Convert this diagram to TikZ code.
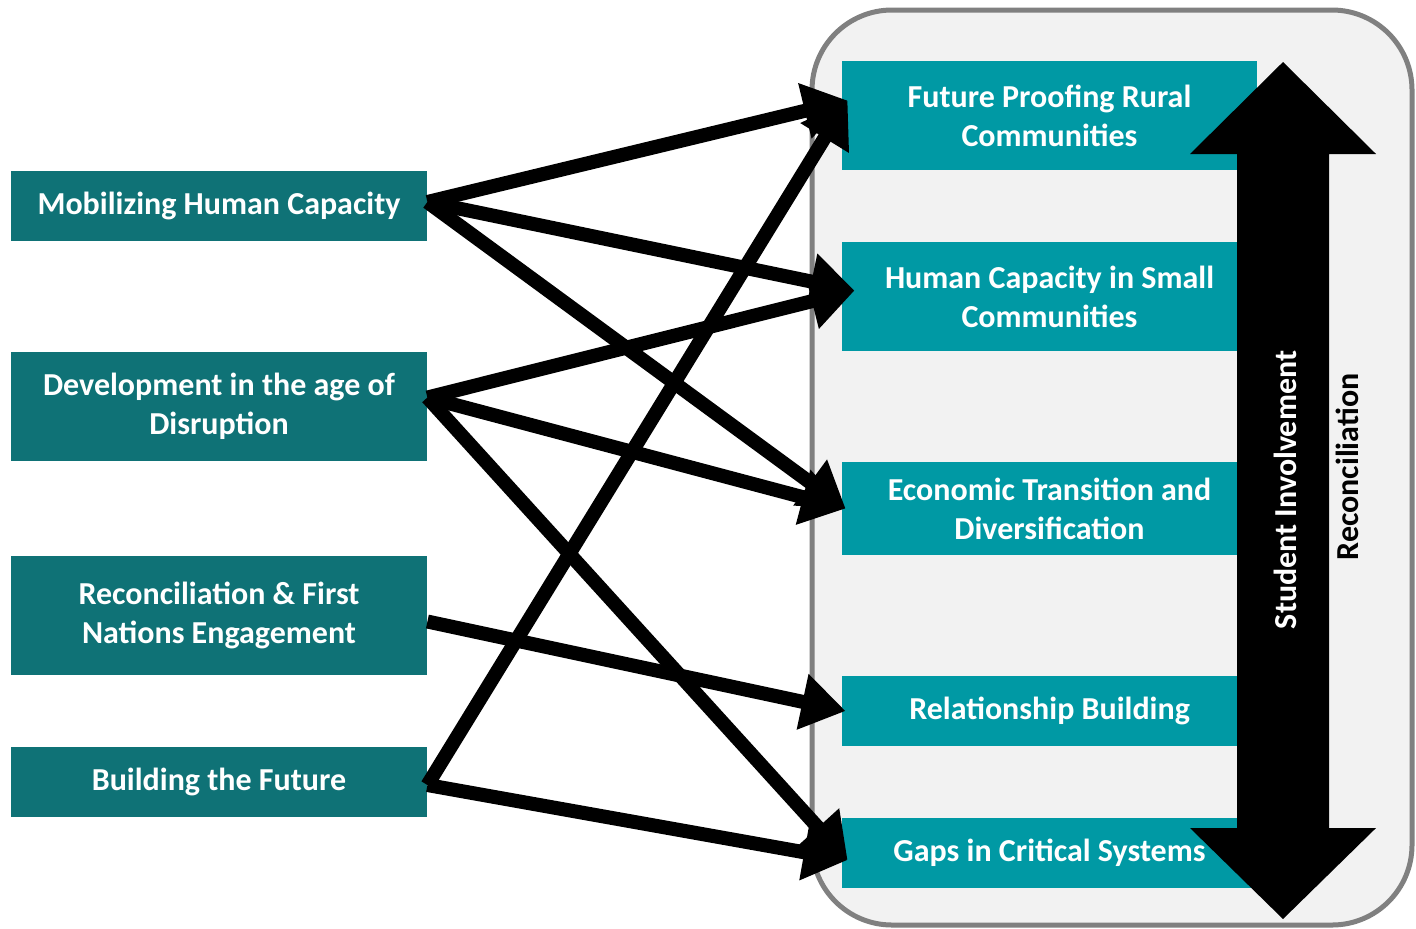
\documentclass[tikz,border=0pt]{standalone}
\usepackage{fontspec}
\setmainfont{Carlito}
\usetikzlibrary{arrows.meta}
\definecolor{darkteal}{HTML}{0F7276}
\definecolor{lightteal}{HTML}{0099A4}
\definecolor{panelgray}{HTML}{F2F2F2}
\definecolor{edgegray}{HTML}{808080}

\tikzset{
  boxtext/.style={text=white, font=\bfseries\fontsize{16}{19.5}\selectfont, align=center, inner sep=0pt},
  leftbox/.style={boxtext, fill=darkteal, minimum width=208pt},
  rightbox/.style={boxtext, fill=lightteal, minimum width=207.5pt},
  link/.style={line width=7pt, -{Triangle[length=22pt,width=27pt]}},
}

\begin{document}
\begin{tikzpicture}[x=0.5pt,y=-0.5pt]
\useasboundingbox (0,0) rectangle (1416,928);
% panel
\draw[edgegray, fill=panelgray, line width=2.5pt, rounded corners=40pt] (812,10) rectangle (1412,925);

% left column
\node[leftbox, minimum height=35pt] (mob) at (219,206) {Mobilizing Human Capacity};
\node[leftbox, minimum height=54.5pt] (dev) at (219,406.5) {Development in the age of\\Disruption};
\node[leftbox, minimum height=59.5pt] (rec) at (219,615.5) {Reconciliation \& First\\Nations Engagement};
\node[leftbox, minimum height=35pt] (bld) at (219,782) {Building the Future};

% right column
\node[rightbox, minimum height=54.5pt] (fut) at (1049.5,115.5) {Future Proofing Rural\\Communities};
\node[rightbox, minimum height=54.5pt] (hum) at (1049.5,296.5) {Human Capacity in Small\\Communities};
\node[rightbox, minimum height=46.5pt] (eco) at (1049.5,508.5) {Economic Transition and\\Diversification};
\node[rightbox, minimum height=35pt] (rel) at (1049.5,711) {Relationship Building};
\node[rightbox, minimum height=35pt] (gap) at (1049.5,853) {Gaps in Critical Systems};

% double arrow
\fill[black] (1283,62) -- (1376,154) -- (1329,154) -- (1329,828) -- (1376,828) -- (1283,919)
  -- (1190,828) -- (1237,828) -- (1237,154) -- (1190,154) -- cycle;
\node[boxtext, rotate=90] (stu) at (1285,490) {Student Involvement};
\node[boxtext, text=black, rotate=90] (recl) at (1347,467) {Reconciliation};

% links
\draw[link] ([yshift=2pt]mob.east) -- ([xshift=3pt,yshift=7.5pt]fut.west);
\draw[link] ([yshift=2pt]mob.east) -- ([xshift=6.5pt,yshift=3pt]hum.west);
\draw[link] ([yshift=2pt]mob.east) -- ([xshift=2pt]eco.west);
\draw[link] ([yshift=4.5pt]dev.east) -- ([xshift=6.5pt,yshift=3pt]hum.west);
\draw[link] ([yshift=4.5pt]dev.east) -- ([xshift=2pt]eco.west);
\draw[link] ([yshift=4.5pt]dev.east) -- ([xshift=3pt,yshift=-3.5pt]gap.west);
\draw[link] ([yshift=-3pt]rec.east) -- ([xshift=2pt]rel.west);
\draw[link] ([yshift=-1.5pt]bld.east) -- ([xshift=3pt,yshift=7.5pt]fut.west);
\draw[link] ([yshift=-1.5pt]bld.east) -- ([xshift=3pt,yshift=-3.5pt]gap.west);
\end{tikzpicture}
\end{document}
